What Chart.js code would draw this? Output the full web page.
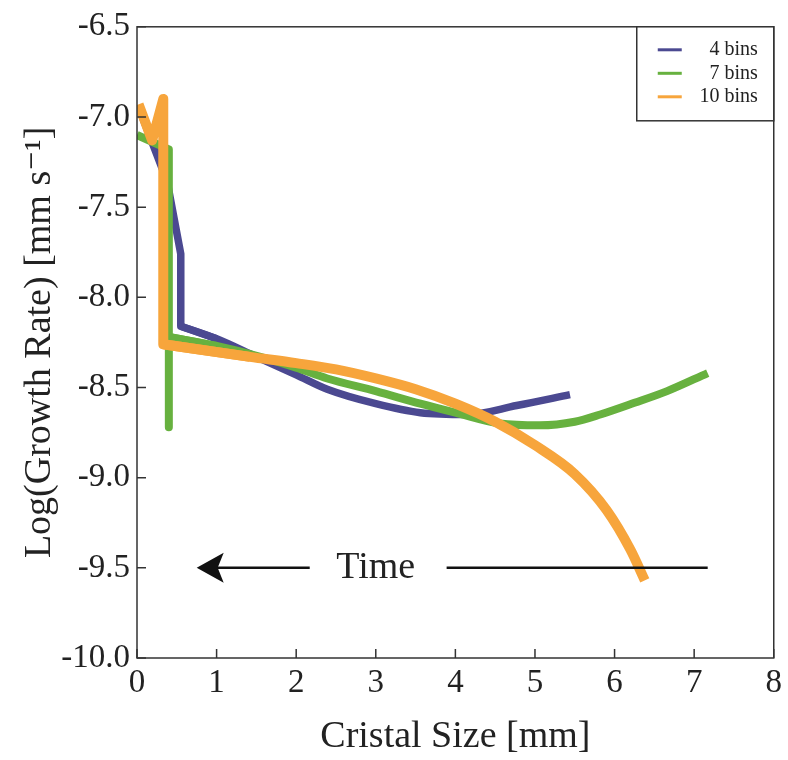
<!DOCTYPE html>
<html lang="en">
<head>
    <meta charset="UTF-8">
    <title>Growth rate vs cristal size</title>
    <script src="https://cdn.jsdelivr.net/npm/chart.js"></script>
    <style>
        html, body { margin: 0; padding: 0; background: #fff; }
        #wrap { width: 788px; height: 760px; }
    </style>
</head>
<body>
<div id="wrap"><canvas id="growthChart" width="788" height="760"></canvas></div>

<script>
    // values
    // each series: a jagged start, then a smooth part that begins at index "corner"
    const bins4Size = [0.05, 0.38, 0.55, 0.55, 1.0, 1.5, 2.0, 2.39, 3.0, 3.56, 4.15, 4.77, 5.44];
    const bins4Rate = [-6.98, -7.36, -7.76, -8.16, -8.23, -8.33, -8.43, -8.51, -8.59, -8.64, -8.65, -8.60, -8.54];
    const bins4Corner = 3;

    const bins7Size = [0.0, 0.40, 0.40, 0.40, 1.0, 1.55, 2.0, 2.39, 3.0, 3.56, 4.0, 4.56, 5.06, 5.5, 5.82, 6.25, 6.66, 7.17];
    const bins7Rate = [-7.10, -7.18, -8.72, -8.22, -8.27, -8.33, -8.39, -8.45, -8.52, -8.59, -8.64, -8.70, -8.71, -8.69, -8.65, -8.585, -8.52, -8.42];
    const bins7Corner = 3;

    const bins10Size = [0.02, 0.19, 0.33, 0.33, 1.42, 2.0, 2.5, 3.0, 3.5, 4.0, 4.5, 5.0, 5.5, 5.9, 6.2, 6.38];
    const bins10Rate = [-6.93, -7.13, -6.90, -8.26, -8.33, -8.365, -8.40, -8.45, -8.51, -8.59, -8.69, -8.82, -8.98, -9.18, -9.40, -9.57];
    const bins10Corner = 3;

    const seriesLabels = ['4 bins', '7 bins', '10 bins'];
    const seriesColors = ['#4b4991', '#67b13f', '#f7a53c'];
    const seriesWidths = [7.5, 8, 10];

    const xTicks = [0, 1, 2, 3, 4, 5, 6, 7, 8];
    const yTicks = [-10.0, -9.5, -9.0, -8.5, -8.0, -7.5, -7.0, -6.5];

    // "Time" arrow: arrow from tail to tip, label, then the line on the right
    const timeArrow = { y: -9.5, tip: 0.75, tail: 2.17, label: 3.0, lineFrom: 3.89, lineTo: 7.17 };

    const serif = "'Liberation Serif', 'DejaVu Serif', serif";

    function toPoints(xs, ys) {
        return xs.map((x, i) => ({ x: x, y: ys[i] }));
    }

    // two datasets per series: straight start (to one point past the corner) and smooth rest
    function seriesDatasets(i, xs, ys, corner) {
        const pts = toPoints(xs, ys);
        const common = {
            label: seriesLabels[i],
            borderColor: seriesColors[i],
            borderWidth: seriesWidths[i],
            order: 3 - i
        };
        return [
            Object.assign({}, common, { data: pts.slice(0, corner + 2), tension: 0 }),
            Object.assign({}, common, { data: pts.slice(corner), cubicInterpolationMode: 'monotone' })
        ];
    }

    const extras = {
        id: 'extras',
        afterDatasetsDraw(chart) {
            const ctx = chart.ctx;
            const area = chart.chartArea;
            const xs = chart.scales.x;
            const ys = chart.scales.y;
            ctx.save();

            // time arrow
            const yy = ys.getPixelForValue(timeArrow.y);
            const tipX = xs.getPixelForValue(timeArrow.tip);
            const tailX = xs.getPixelForValue(timeArrow.tail);
            ctx.strokeStyle = '#111';
            ctx.fillStyle = '#111';
            ctx.lineWidth = 2.5;
            ctx.beginPath();
            ctx.moveTo(tipX + 12, yy);
            ctx.lineTo(tailX, yy);
            ctx.moveTo(xs.getPixelForValue(timeArrow.lineFrom), yy);
            ctx.lineTo(xs.getPixelForValue(timeArrow.lineTo), yy);
            ctx.stroke();
            ctx.beginPath();
            ctx.moveTo(tipX, yy);
            ctx.lineTo(tipX + 27, yy - 15);
            ctx.lineTo(tipX + 21, yy);
            ctx.lineTo(tipX + 27, yy + 15);
            ctx.closePath();
            ctx.fill();
            ctx.font = '38px ' + serif;
            ctx.textAlign = 'center';
            ctx.textBaseline = 'middle';
            ctx.fillStyle = '#222';
            ctx.fillText('Time', xs.getPixelForValue(timeArrow.label), yy);

            // frame
            ctx.strokeStyle = '#333';
            ctx.lineWidth = 1.5;
            ctx.strokeRect(area.left, area.top, area.right - area.left, area.bottom - area.top);

            // inward ticks
            ctx.beginPath();
            xTicks.forEach(v => {
                const px = xs.getPixelForValue(v);
                ctx.moveTo(px, area.bottom);
                ctx.lineTo(px, area.bottom - 9);
            });
            yTicks.forEach(v => {
                const py = ys.getPixelForValue(v);
                ctx.moveTo(area.left, py);
                ctx.lineTo(area.left + 9, py);
            });
            ctx.stroke();

            // legend box in the top right corner
            const boxW = 137, boxH = 94;
            const bx = area.right - boxW, by = area.top;
            ctx.fillStyle = '#fff';
            ctx.fillRect(bx, by, boxW, boxH);
            ctx.strokeRect(bx, by, boxW, boxH);
            ctx.font = '20px ' + serif;
            ctx.textAlign = 'right';
            ctx.textBaseline = 'middle';
            seriesLabels.forEach((label, i) => {
                const ly = by + 23 + i * 23.5;
                ctx.strokeStyle = seriesColors[i];
                ctx.lineWidth = 3;
                ctx.beginPath();
                ctx.moveTo(bx + 21, ly);
                ctx.lineTo(bx + 45, ly);
                ctx.stroke();
                ctx.fillStyle = '#222';
                ctx.fillText(label, area.right - 16, ly);
            });
            ctx.restore();
        }
    };

    const ctx = document.getElementById('growthChart').getContext('2d');
    const growthChart = new Chart(ctx, {
        type: 'line',
        data: {
            datasets: [].concat(
                seriesDatasets(0, bins4Size, bins4Rate, bins4Corner),
                seriesDatasets(1, bins7Size, bins7Rate, bins7Corner),
                seriesDatasets(2, bins10Size, bins10Rate, bins10Corner)
            )
        },
        options: {
            responsive: false,
            animation: false,
            events: [],
            layout: { padding: { top: 20, right: 14, left: 0, bottom: 0 } },
            elements: {
                point: { radius: 0 },
                line: { fill: false, borderJoinStyle: 'round', borderCapStyle: 'butt' }
            },
            plugins: {
                legend: { display: false },
                tooltip: { enabled: false }
            },
            scales: {
                x: {
                    type: 'linear',
                    min: 0,
                    max: 8,
                    afterFit: s => { s.height = 102; },
                    afterBuildTicks: s => { s.ticks = xTicks.map(v => ({ value: v })); },
                    ticks: {
                        padding: 6,
                        color: '#222',
                        font: { family: serif, size: 33 },
                        maxRotation: 0,
                        callback: v => String(v)
                    },
                    grid: { display: false, drawTicks: false },
                    border: { display: false },
                    title: {
                        display: true,
                        text: 'Cristal Size [mm]',
                        color: '#222',
                        font: { family: serif, size: 38 },
                        padding: { top: 0, bottom: 0 }
                    }
                },
                y: {
                    type: 'linear',
                    min: -10,
                    max: -6.5,
                    afterFit: s => { s.width = 137; },
                    afterBuildTicks: s => { s.ticks = yTicks.map(v => ({ value: v })); },
                    ticks: {
                        padding: 7,
                        color: '#222',
                        font: { family: serif, size: 33 },
                        callback: v => v.toFixed(1)
                    },
                    grid: { display: false, drawTicks: false },
                    border: { display: false },
                    title: {
                        display: true,
                        text: 'Log(Growth Rate) [mm s⁻¹]',
                        color: '#222',
                        font: { family: serif, size: 38 },
                        padding: { top: 17, bottom: 0 }
                    }
                }
            }
        },
        plugins: [extras]
    });
</script>
</body>
</html>
